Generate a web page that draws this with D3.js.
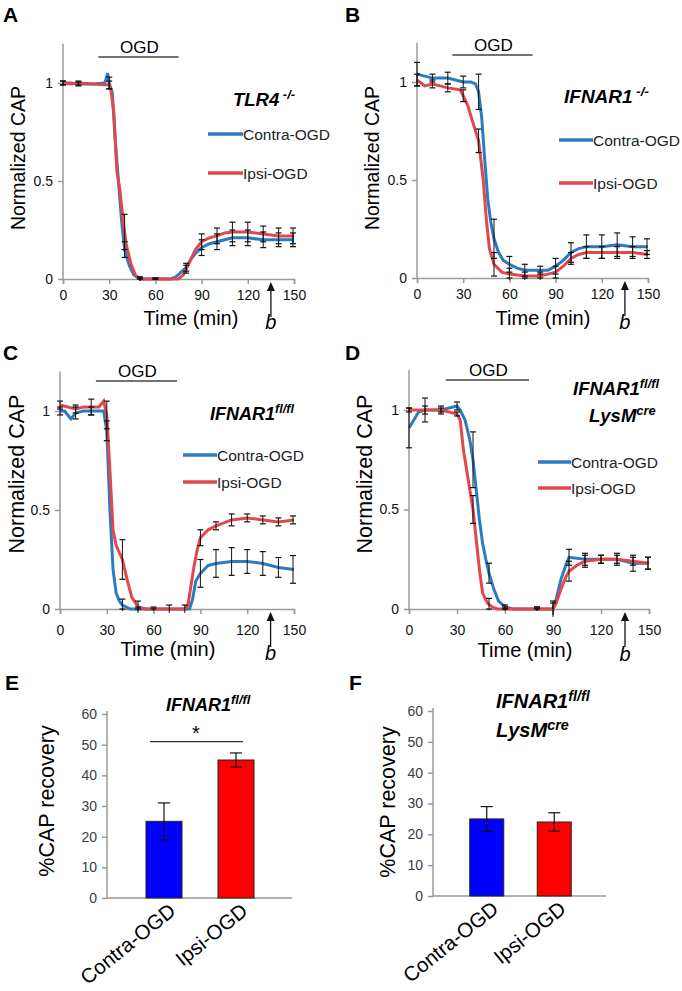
<!DOCTYPE html>
<html><head><meta charset="utf-8">
<script src="https://cdn.jsdelivr.net/npm/d3@7"></script>
<style>
body{margin:0;background:#fff;}
svg{display:block;font-family:"Liberation Sans",Arial,sans-serif;}
</style></head>
<body>
<svg id="c" width="682" height="991"></svg>
<script>
// ---------- DATA ----------
const timeTicks = [0, 30, 60, 90, 120, 150];
const capTicks = [0, 0.5, 1];
const errTimes = [0,10,20,30,40,50,60,70,80,90,100,110,120,130,140,150];
const seriesNames = ["Contra-OGD", "Ipsi-OGD"];

// Panel A  TLR4-/-
const aContra = [[0,1.0],[5,1.0],[10,0.995],[20,0.995],[27,1.0],[28,1.02],[29,1.05],[30,1.0],[32,0.95],[34,0.7],[36,0.5],[38,0.3],[40,0.15],[43,0.07],[46,0.02],[50,0.0],[60,0.0],[70,0.0],[73,0.01],[76,0.03],[80,0.06],[83,0.1],[86,0.13],[90,0.16],[95,0.18],[100,0.19],[105,0.2],[110,0.21],[120,0.21],[130,0.2],[140,0.2],[150,0.2]];
const aIpsi   = [[0,1.0],[5,0.995],[10,1.0],[20,0.995],[30,0.99],[31,0.97],[33,0.85],[35,0.55],[37,0.45],[39,0.3],[41,0.18],[44,0.08],[47,0.02],[50,0.0],[60,0.0],[70,0.0],[75,0.0],[78,0.02],[80,0.05],[83,0.1],[86,0.15],[90,0.19],[95,0.21],[100,0.22],[105,0.235],[110,0.24],[120,0.24],[130,0.23],[140,0.22],[150,0.22]];
const aContraErr = [0.01,0.01,0,0.03,0.04,0.01,0.005,0,0.02,0.04,0.04,0.04,0.04,0.04,0.035,0.035];
const aIpsiErr   = [0.01,0.01,0,0.02,0.09,0.01,0.005,0,0.02,0.04,0.04,0.05,0.05,0.04,0.04,0.04];

// Panel B  IFNAR1-/-
const bContra = [[0,1.04],[5,1.03],[10,1.02],[15,1.02],[20,1.02],[25,1.01],[30,1.0],[35,1.0],[38,0.99],[40,0.95],[42,0.82],[44,0.6],[46,0.4],[48,0.28],[50,0.2],[53,0.13],[56,0.09],[60,0.07],[65,0.05],[70,0.04],[80,0.04],[85,0.04],[90,0.06],[95,0.09],[100,0.13],[105,0.15],[110,0.16],[120,0.16],[130,0.17],[140,0.16],[150,0.16]];
const bIpsi   = [[0,1.01],[5,0.98],[10,0.99],[15,0.98],[20,0.97],[28,0.96],[30,0.93],[33,0.88],[36,0.8],[40,0.7],[43,0.5],[45,0.3],[47,0.15],[50,0.07],[55,0.03],[60,0.02],[70,0.01],[80,0.01],[85,0.02],[90,0.03],[95,0.06],[100,0.1],[105,0.12],[110,0.13],[120,0.13],[130,0.13],[140,0.13],[150,0.12]];
const bContraErr = [0.06,0.02,0.03,0.03,0.09,0.1,0.04,0.03,0.02,0.04,0.05,0.06,0.06,0.06,0.05,0.04];
const bIpsiErr   = [0.03,0.02,0.02,0.03,0.06,0.06,0.03,0.02,0.02,0.03,0.03,0.03,0.03,0.03,0.03,0.02];

// Panel C  IFNAR1fl/fl
const cContra = [[0,1.0],[3,1.0],[5,0.98],[7,0.96],[10,0.99],[15,1.0],[20,1.0],[25,1.0],[28,1.0],[30,0.9],[32,0.5],[34,0.2],[36,0.08],[38,0.04],[40,0.02],[45,0.0],[60,0.0],[80,0.0],[83,0.0],[85,0.05],[87,0.14],[90,0.18],[95,0.22],[100,0.23],[110,0.24],[120,0.24],[130,0.23],[140,0.21],[150,0.2]];
const cIpsi   = [[0,1.03],[5,1.02],[10,1.01],[15,1.02],[20,1.02],[25,1.02],[28,1.05],[30,0.98],[32,0.7],[34,0.4],[36,0.32],[40,0.25],[43,0.15],[46,0.06],[50,0.01],[55,0.0],[60,0.0],[80,0.0],[82,0.02],[84,0.12],[86,0.22],[88,0.3],[90,0.36],[95,0.4],[100,0.42],[110,0.45],[120,0.46],[130,0.45],[140,0.44],[150,0.45]];
const cContraErr = [0.02,0.03,0.02,0.05,0.03,0.01,0,0,0,0.07,0.07,0.07,0.06,0.06,0.05,0.07];
const cIpsiErr   = [0.02,0.02,0.04,0.07,0.1,0.03,0.01,0.02,0.02,0.04,0.02,0.03,0.02,0.02,0.02,0.02];

// Panel D  IFNAR1fl/fl LysMcre
const dContra = [[0,0.91],[3,0.95],[6,0.99],[10,1.0],[20,1.0],[25,1.01],[30,1.02],[32,1.0],[35,0.95],[38,0.85],[40,0.75],[42,0.6],[44,0.45],[46,0.33],[48,0.25],[50,0.18],[53,0.1],[56,0.04],[60,0.01],[65,0.0],[90,0.0],[92,0.05],[95,0.15],[98,0.22],[100,0.26],[110,0.25],[120,0.25],[130,0.25],[140,0.23],[150,0.23]];
const dIpsi   = [[0,1.0],[10,1.0],[20,1.0],[25,0.99],[30,0.98],[32,0.95],[34,0.8],[37,0.65],[40,0.5],[42,0.35],[44,0.2],[46,0.08],[49,0.03],[52,0.01],[55,0.0],[90,0.0],[92,0.03],[95,0.1],[98,0.16],[100,0.19],[105,0.22],[110,0.24],[120,0.25],[130,0.25],[140,0.24],[150,0.23]];
const dContraErr = [0.1,0.06,0.02,0.02,0.14,0.05,0.01,0,0.01,0.04,0.04,0.03,0.02,0.03,0.04,0.03];
const dIpsiErr   = [0.01,0.02,0.01,0.01,0.07,0.03,0.01,0,0.01,0.03,0.05,0.03,0.02,0.02,0.02,0.03];

// Bar panels
const barCats = ["Contra-OGD", "Ipsi-OGD"];
const recoveryTicks = [0,10,20,30,40,50,60];
const eMeans = [25, 45];
const eErrs  = [6, 2.3];
const fMeans = [25, 24];
const fErrs  = [4, 3];
const eSigLevel = 51;
const ogdWindow = [23, 75];
const markTime = 135;

// ---------- STYLE / LAYOUT ----------
const BLUE = "#2b7bc2", RED = "#e2474b", AXIS = "#9a9a9a";
const svg = d3.select("#c");

function letter(x, y, t){
  svg.append("text").attr("x",x).attr("y",y).attr("font-size",21).attr("font-weight","bold").text(t);
}

function linePanel(cfg){
  const x = d3.scaleLinear().domain([0,150]).range([cfg.x0,cfg.x1]);
  const y = d3.scaleLinear().domain([0,1]).range([cfg.y0,cfg.y1]);
  const g = svg.append("g");
  const ya = g.append("g").attr("transform",`translate(${cfg.x0},0)`)
    .call(d3.axisLeft(y).tickValues(capTicks).tickSize(5).tickPadding(5).tickFormat(d3.format("")));
  ya.select(".domain").attr("d",`M0,${y(0)}V${y(1.2)}`);
  const xa = g.append("g").attr("transform",`translate(0,${cfg.y0})`)
    .call(d3.axisBottom(x).tickValues(timeTicks).tickSize(5).tickPadding(cfg.tpad).tickFormat(d3.format("")));
  [ya,xa].forEach(a=>{
    a.selectAll("path,line").attr("stroke",AXIS).attr("stroke-width",1.5);
    a.selectAll("text").attr("font-size",14).attr("fill","#111").attr("font-family","Liberation Sans, Arial");
  });
  g.append("text").attr("transform",`translate(${cfg.ytx},${cfg.yty}) rotate(-90)`)
    .attr("text-anchor","middle").attr("font-size",cfg.yfs).text("Normalized CAP");
  g.append("text").attr("x",cfg.xtx).attr("y",cfg.xty).attr("text-anchor","middle").attr("font-size",20).text("Time (min)");
  g.append("line").attr("x1",x(ogdWindow[0])).attr("x2",x(ogdWindow[1])).attr("y1",cfg.ogdY).attr("y2",cfg.ogdY)
    .attr("stroke","#444").attr("stroke-width",1.5);
  g.append("text").attr("x",(x(ogdWindow[0])+x(ogdWindow[1]))/2+1).attr("y",cfg.ogdY-4).attr("text-anchor","middle")
    .attr("font-size",17).text("OGD");
  const line = d3.line().x(d=>x(d[0])).y(d=>y(d[1]));
  const interp = (arr,t)=>{ for(let i=1;i<arr.length;i++){ if(arr[i][0]>=t){const a=arr[i-1],b=arr[i];return a[1]+(b[1]-a[1])*(t-a[0])/(b[0]-a[0]);} } return arr[arr.length-1][1]; };
  const drawErr = (arr,errs)=>{
    errTimes.forEach((t,i)=>{
      const e = errs[i]; if(e<=0.003) return;
      const v = interp(arr,t), xx = x(t)+(t===150?-1:0);
      g.append("line").attr("x1",xx).attr("x2",xx).attr("y1",y(v-e)).attr("y2",y(v+e)).attr("stroke","#111").attr("stroke-width",1);
      [v-e,v+e].forEach(w=>{ if(w>=-0.01) g.append("line").attr("x1",xx-3).attr("x2",xx+3).attr("y1",y(Math.max(w,0))).attr("y2",y(Math.max(w,0))).attr("stroke","#111").attr("stroke-width",1.2); });
    });
  };
  g.append("path").datum(cfg.contra).attr("d",line).attr("fill","none").attr("stroke",BLUE).attr("stroke-width",3);
  g.append("path").datum(cfg.ipsi).attr("d",line).attr("fill","none").attr("stroke",RED).attr("stroke-width",3);
  drawErr(cfg.contra,cfg.contraErr);
  drawErr(cfg.ipsi,cfg.ipsiErr);
  const ax = x(markTime);
  g.append("line").attr("x1",ax).attr("x2",ax).attr("y1",cfg.y0+10).attr("y2",cfg.y0+38).attr("stroke","#111").attr("stroke-width",1.3);
  g.append("path").attr("d",`M${ax-4},${cfg.y0+12}L${ax},${cfg.y0+3}L${ax+4},${cfg.y0+12}Z`).attr("fill","#111");
  g.append("text").attr("x",ax).attr("y",cfg.xty+4).attr("text-anchor","middle").attr("font-size",20).attr("font-style","italic").text("b");
  cfg.titles.forEach(tt=>{
    const t = g.append("text").attr("x",tt.x).attr("y",tt.y).attr("font-size",tt.fs).attr("font-weight","bold").attr("font-style","italic").attr("text-anchor",tt.anchor||"start");
    t.append("tspan").text(tt.main);
    t.append("tspan").attr("dy",-7).attr("font-size",tt.fs*0.7).text(tt.sup);
  });
  cfg.leg.forEach((L,i)=>{
    g.append("line").attr("x1",L.x).attr("x2",L.x+cfg.legW).attr("y1",L.y).attr("y2",L.y).attr("stroke",i===0?BLUE:RED).attr("stroke-width",3.5);
    g.append("text").attr("x",L.x+cfg.legW).attr("y",L.y+6).attr("font-size",15.5).attr("fill","#222").text(seriesNames[i]);
  });
}

letter(3,22,"A"); letter(345,22,"B"); letter(3,360,"C"); letter(345,360,"D"); letter(5,690,"E"); letter(349,690,"F");

linePanel({x0:63,x1:294,y0:279,y1:83,tpad:6,ytx:25,yty:158,yfs:19.5,xtx:191,xty:325,ogdY:57,
  contra:aContra,ipsi:aIpsi,contraErr:aContraErr,ipsiErr:aIpsiErr,legW:35,
  titles:[{x:233,y:106,fs:18.5,main:"TLR4",sup:" -/-"}],
  leg:[{x:208,y:134},{x:208,y:173}]});
linePanel({x0:417,x1:648,y0:278,y1:82,tpad:6,ytx:379,yty:158,yfs:19.5,xtx:543,xty:325,ogdY:55,
  contra:bContra,ipsi:bIpsi,contraErr:bContraErr,ipsiErr:bIpsiErr,legW:34,
  titles:[{x:564,y:103,fs:19,main:"IFNAR1",sup:" -/-"}],
  leg:[{x:559,y:140},{x:559,y:183}]});
linePanel({x0:60,x1:294,y0:609,y1:411,tpad:11,ytx:24,yty:474,yfs:21.5,xtx:168,xty:656,ogdY:381,
  contra:cContra,ipsi:cIpsi,contraErr:cContraErr,ipsiErr:cIpsiErr,legW:34,
  titles:[{x:210,y:420,fs:18,main:"IFNAR1",sup:"fl/fl"}],
  leg:[{x:183,y:455},{x:183,y:482}]});
linePanel({x0:409,x1:649,y0:609,y1:410,tpad:11,ytx:372,yty:474,yfs:21.5,xtx:525,xty:657,ogdY:380,
  contra:dContra,ipsi:dIpsi,contraErr:dContraErr,ipsiErr:dIpsiErr,legW:33,
  titles:[{x:573,y:395,fs:18.5,main:"IFNAR1",sup:"fl/fl"},{x:589,y:422,fs:18.5,main:"LysM",sup:"cre"}],
  leg:[{x:538,y:462},{x:538,y:488}]});

function barPanel(cfg){
  const x = d3.scalePoint().domain(barCats).range(cfg.xr).padding(0.5);
  const y = d3.scaleLinear().domain([0,60]).range([cfg.y0,cfg.y60]);
  const g = svg.append("g");
  const ya = g.append("g").attr("transform",`translate(${cfg.x0},0)`)
    .call(d3.axisLeft(y).tickValues(recoveryTicks).tickSize(5).tickPadding(5));
  ya.select(".domain").attr("d",`M0,${y(0)}V${y(60)-3}`);
  ya.selectAll("path,line").attr("stroke",AXIS).attr("stroke-width",1.5);
  ya.selectAll("text").attr("font-size",14).attr("fill","#3b3b4a").attr("font-family","Liberation Sans, Arial");
  g.append("line").attr("x1",cfg.x0).attr("x2",cfg.xEnd).attr("y1",y(0)).attr("y2",y(0)).attr("stroke",AXIS).attr("stroke-width",1.5);
  g.append("text").attr("transform",`translate(${cfg.ytx},${cfg.yty}) rotate(-90)`).attr("text-anchor","middle")
    .attr("font-size",21.5).text("%CAP recovery");
  const fills = ["#0000ff","#ff0000"];
  barCats.forEach((c,i)=>{
    const cx = x(c), m = cfg.means[i], e = cfg.errs[i];
    g.append("rect").attr("x",cx-cfg.bw/2).attr("width",cfg.bw).attr("y",y(m)).attr("height",y(0)-y(m))
      .attr("fill",fills[i]).attr("stroke","#222").attr("stroke-width",1);
    g.append("line").attr("x1",cx).attr("x2",cx).attr("y1",y(m-e)).attr("y2",y(m+e)).attr("stroke","#111").attr("stroke-width",1.2);
    [m-e,m+e].forEach(w=>g.append("line").attr("x1",cx-6).attr("x2",cx+6).attr("y1",y(w)).attr("y2",y(w)).attr("stroke","#111").attr("stroke-width",1.2));
    g.append("text").attr("transform",`translate(${cx+4},${y(0)+4}) rotate(-39)`).attr("text-anchor","end")
      .attr("font-size",20.5).attr("dy","0.7em").text(c);
  });
  cfg.titles.forEach(tt=>{
    const t = g.append("text").attr("x",tt.x).attr("y",tt.y).attr("font-size",tt.fs).attr("font-weight","bold").attr("font-style","italic");
    t.append("tspan").text(tt.main);
    t.append("tspan").attr("dy",-7).attr("font-size",tt.fs*0.72).text(tt.sup);
  });
  if(cfg.sig){
    const sy = y(eSigLevel);
    g.append("line").attr("x1",x(barCats[0])-14).attr("x2",x(barCats[1])+7).attr("y1",sy).attr("y2",sy).attr("stroke","#333").attr("stroke-width",1.2);
    g.append("text").attr("x",(x(barCats[0])+x(barCats[1]))/2-4).attr("y",sy-2).attr("text-anchor","middle").attr("font-size",20).text("*");
  }
}

barPanel({x0:107,xEnd:292,xr:[128,272],bw:36,y0:898,y60:714,ytx:54,yty:801,means:eMeans,errs:eErrs,sig:true,
  titles:[{x:166,y:711,fs:18,main:"IFNAR1",sup:"fl/fl"}]});
barPanel({x0:433,xEnd:606,xr:[453,588],bw:34,y0:896,y60:711,ytx:395,yty:802,means:fMeans,errs:fErrs,sig:false,
  titles:[{x:496,y:708,fs:20,main:"IFNAR1",sup:"fl/fl"},{x:496,y:737,fs:20,main:"LysM",sup:"cre"}]});
</script>
</body></html>
